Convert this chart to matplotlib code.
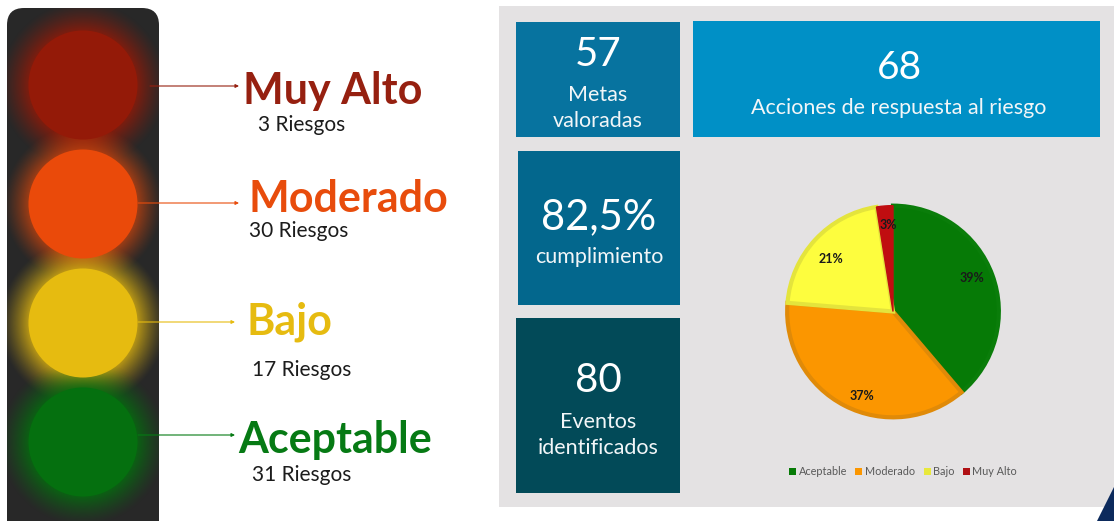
import numpy as np
import matplotlib
matplotlib.use("Agg")
import matplotlib.pyplot as plt
from matplotlib.patches import Circle, FancyBboxPatch, Polygon, Rectangle

plt.rcParams['font.family'] = ['Lato', 'DejaVu Sans']

W, H = 1114, 521

# data
pie_labels = ['Aceptable', 'Moderado', 'Bajo', 'Muy Alto']
pie_values = [38.8, 37.5, 21.2, 2.5]  # slice sizes as drawn
pie_pct = ['39%', '37%', '21%', '3%']
pie_colors = ['#067a06', '#fb9600', '#fdfd3e', '#c00d10']
pie_edges = ['#0a7d0a', '#e08a08', '#e4e43c', '#c00d10']
pie_edge_widths = [3, 3, 3, 1]
legend_colors = ['#067a06', '#fb9600', '#e8e83c', '#b01014']

level_names = ['Muy Alto', 'Moderado', 'Bajo', 'Aceptable']
level_counts = ['3 Riesgos', '30 Riesgos', '17 Riesgos', '31 Riesgos']
level_colors = ['#962010', '#e84c0c', '#e6bb10', '#067a14']
lamp_colors = ['#941a08', '#ea4a0a', '#e6bb10', '#05700f']
glow_alpha = [0.95, 0.75, 0.9, 0.95]
glow_reach = [84, 80, 84, 84]

tile_numbers = ['57', '68', '82,5%', '80']
tile_captions = ['Metas\nvaloradas', 'Acciones de respuesta al riesgo', 'cumplimiento', 'Eventos\nidentificados']
tile_colors = ['#07739f', '#0090c6', '#03678d', '#024a58']

# layout in image pixels
lamp_y = [85, 204, 323, 442]
arrow_start = [150, 138, 138, 138]
arrow_end = [239, 239, 235, 235]
arrow_y = [86, 203, 322, 435]
name_xy = [(243, 91), (249, 199), (247, 322), (238, 440)]
count_xy = [(258, 125), (249, 231), (252, 370), (252, 475)]
tile_boxes = [(516, 22, 164, 115), (693, 21, 407, 116), (518, 151, 162, 154), (516, 318, 164, 175)]
number_y = [55, 68, 217, 381]
number_x = [598, 899, 599, 598]
caption_y = [108, 108, 257, 435]
number_size = [29, 28, 30, 29]
label_xy = [(972, 278), (862, 396), (831, 259), (888, 225)]
leg_x = [789, 855, 924, 963]

fig = plt.figure(figsize=(W / 100, H / 100), dpi=100, facecolor='white')
ax = fig.add_axes([0, 0, 1, 1])
ax.set_xlim(0, W)
ax.set_ylim(H, 0)
ax.axis('off')

# traffic light
body = FancyBboxPatch((7 + 17, 8 + 17), 152 - 34, 540 - 34, boxstyle='round,pad=17,rounding_size=17',
                      fc='#282828', ec='none', zorder=1)
ax.add_patch(body)
for i in range(4):
    # soft halo around each lamp
    yy, xx = np.mgrid[-85:85:340j, -85:85:340j]
    dist = np.hypot(xx, yy)
    t = np.clip((glow_reach[i] - dist) / (glow_reach[i] - 50), 0, 1)
    halo = np.zeros(dist.shape + (4,))
    halo[..., :3] = matplotlib.colors.to_rgb(lamp_colors[i])
    halo[..., 3] = t ** 1.3 * glow_alpha[i]
    im = ax.imshow(halo, extent=(83 - 85, 83 + 85, lamp_y[i] + 85, lamp_y[i] - 85), zorder=2 + i * 0.1,
                   interpolation='bilinear', aspect='auto')
    im.set_clip_path(body)
    ax.add_patch(Circle((83, lamp_y[i]), 54.5, fc=lamp_colors[i], ec='none', zorder=3))
ax.set_xlim(0, W)
ax.set_ylim(H, 0)

for i in range(4):
    ax.annotate('', xy=(arrow_end[i], arrow_y[i]), xytext=(arrow_start[i], arrow_y[i]), zorder=4,
                arrowprops=dict(arrowstyle='-|>,head_width=0.1,head_length=0.2', color=level_colors[i], lw=0.8,
                                shrinkA=0, shrinkB=0))
    ax.text(name_xy[i][0], name_xy[i][1], level_names[i], color=level_colors[i], fontsize=31, fontweight='bold',
            va='center', ha='left')
    ax.text(count_xy[i][0], count_xy[i][1], level_counts[i], color='#1c1c1c', fontsize=15, va='center', ha='left')

# right panel
ax.add_patch(Rectangle((499, 6), W - 499, 501, fc='#e4e2e3', ec='none', zorder=0.5))
ax.add_patch(Polygon([(W, 487), (W, H), (1097, H)], fc='#0c2a5c', ec='none', zorder=1))

for i in range(4):
    x, y, w, h = tile_boxes[i]
    ax.add_patch(Rectangle((x, y), w, h, fc=tile_colors[i], ec='none', zorder=1))
    ax.text(number_x[i], number_y[i], tile_numbers[i], color='white', fontsize=number_size[i],
            ha='center', va='center', zorder=2)
    ax.text(number_x[i], caption_y[i], tile_captions[i], color='#f2f6f8', fontsize=15.5, ha='center', va='center',
            linespacing=1.4, zorder=2)

# pie
cx, cy, r = 893, 311.5, 108
pie_ax = fig.add_axes([(cx - r) / W, 1 - (cy + r) / H, 2 * r / W, 2 * r / H])
wedges, _ = pie_ax.pie(pie_values, colors=pie_colors, startangle=90, counterclock=False, radius=0.98,
                       wedgeprops=dict(joinstyle='miter'))
pie_ax.set_xlim(-1, 1)
pie_ax.set_ylim(-1, 1)
pie_ax.axis('off')
for i, w in enumerate(wedges):
    w.set_edgecolor(pie_edges[i])
    w.set_linewidth(pie_edge_widths[i])

for i in range(4):
    pie_ax.text((label_xy[i][0] - cx) / r, (cy - label_xy[i][1]) / r, pie_pct[i], fontsize=9,
                fontweight='bold', color='#1a1a1a', ha='center', va='center')

# legend
for i in range(4):
    ax.add_patch(Rectangle((leg_x[i], 467.5), 7, 7, fc=legend_colors[i], ec='none', zorder=2))
    ax.text(leg_x[i] + 9.5, 471.5, pie_labels[i], fontsize=7.8, color='#595959', ha='left', va='center', zorder=2)

fig.savefig('out.png', dpi=100)
